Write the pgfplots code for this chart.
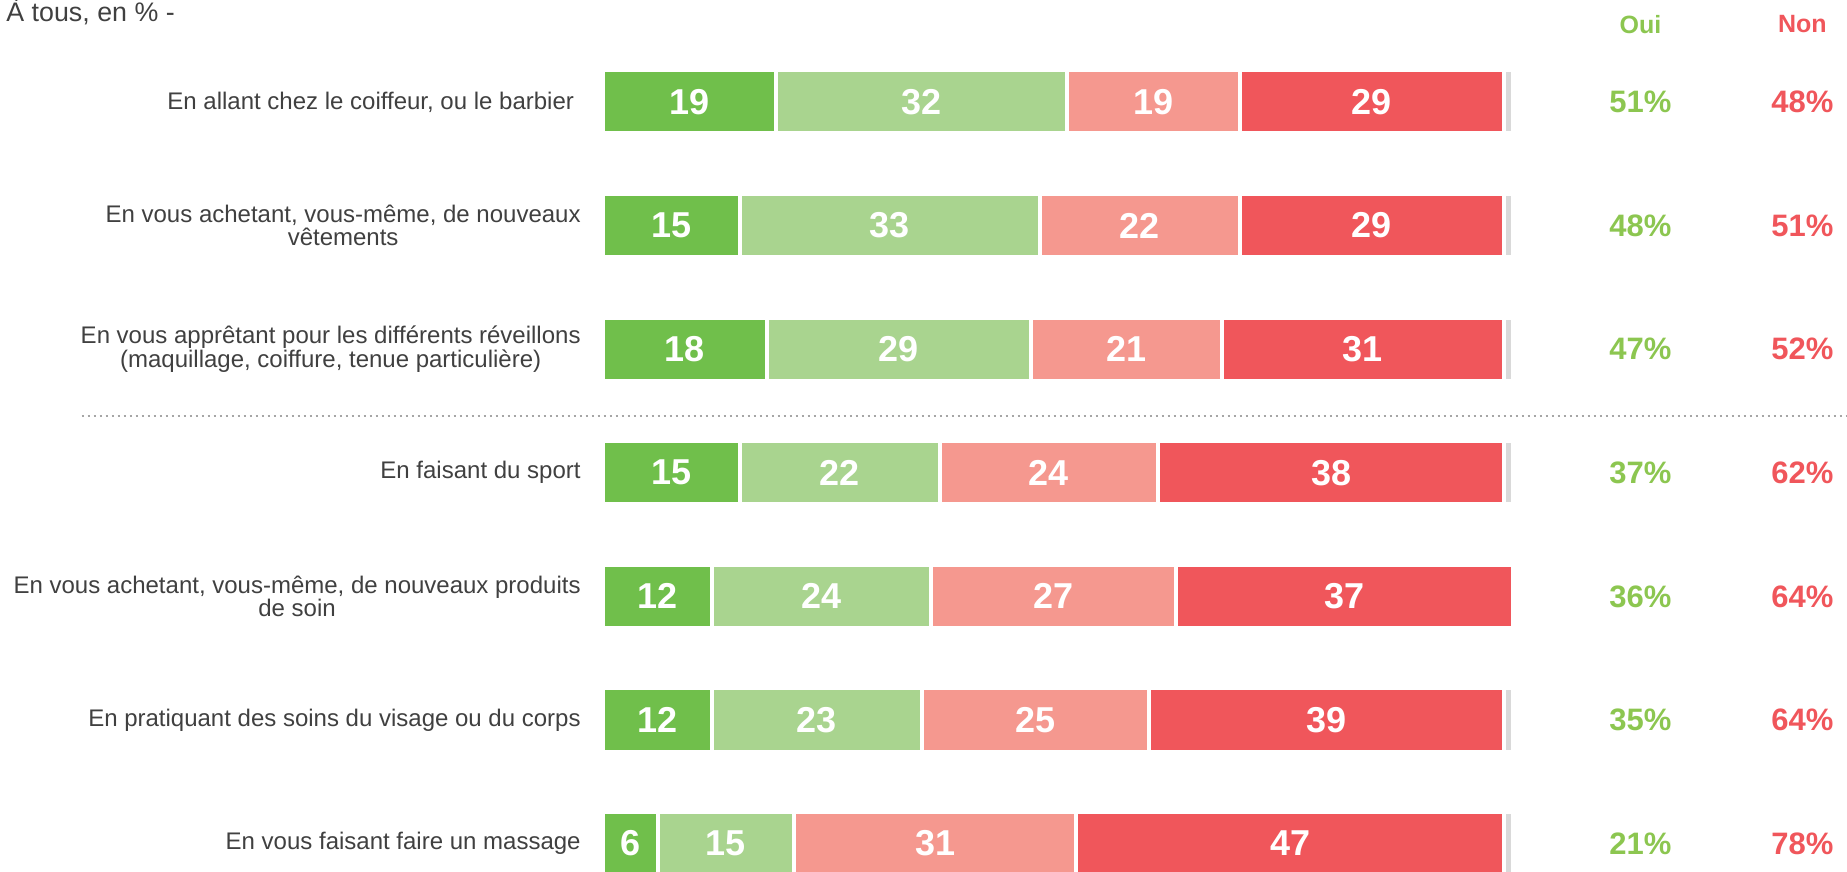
\documentclass[border=0pt]{standalone}
\usepackage{pgfplots}
\pgfplotsset{compat=1.18}
\usepackage{fontspec}
\setmainfont{Liberation Sans}

\definecolor{tbA}{RGB}{112,191,75}
\definecolor{tbB}{RGB}{169,212,143}
\definecolor{tbC}{RGB}{245,152,143}
\definecolor{tbD}{RGB}{240,86,91}
\definecolor{tbE}{RGB}{217,217,217}
\definecolor{ouiC}{RGB}{140,198,80}
\definecolor{nonC}{RGB}{240,86,91}
\definecolor{txt}{RGB}{64,64,64}

% 1 px of the reference = 0.5pt ; bars start at px 603, 9.1 px per point
\pgfplotsset{
  base/.style={
    scale only axis, width=923.5pt, height=436pt,
    xmin=-66.26, xmax=136.7, ymin=-0.825, ymax=6.23,
    y dir=reverse, clip=false,
    /pgf/number format/assume math mode=true,
  },
  seg/.style={fill=#1, draw=white, line width=2pt},
  lab/.style={draw=none, mark=none, nodes near coords, point meta=explicit,
    every node near coord/.append style={anchor=center, text=white,
      font=\fontsize{18}{18}\selectfont\bfseries}},
}

\begin{document}
\begin{tikzpicture}
\begin{axis}[base,
    xbar stacked, bar width=0.51,
    axis line style={draw=none}, tick style={draw=none},
    xtick=\empty, ytick={0,...,6},
    yticklabels={
      {En allant chez le coiffeur, ou le barbier\ },
      {En vous achetant, vous-même, de nouveaux\\vêtements},
      {En vous apprêtant pour les différents réveillons\\(maquillage, coiffure, tenue particulière)},
      {En faisant du sport},
      {En vous achetant, vous-même, de nouveaux produits\\de soin},
      {En pratiquant des soins du visage ou du corps},
      {En vous faisant faire un massage}},
    yticklabel style={align=center, anchor=east, inner sep=0pt, xshift=290.5pt,
      text=txt, font=\fontsize{12}{11.8}\selectfont},
]
\addplot[seg=tbA] coordinates {(19,0) (15,1) (18,2) (15,3) (12,4) (12,5) (6,6)};
\addplot[seg=tbB] coordinates {(32,0) (33,1) (29,2) (22,3) (24,4) (23,5) (15,6)};
\addplot[seg=tbC] coordinates {(19,0) (22,1) (21,2) (24,3) (27,4) (25,5) (31,6)};
\addplot[seg=tbD] coordinates {(29,0) (29,1) (31,2) (38,3) (37,4) (39,5) (47,6)};
\addplot[seg=tbE] coordinates {(1,0) (1,1) (1,2) (1,3) (0,4) (1,5) (1,6)};
\end{axis}

\begin{axis}[base, hide axis]
% value labels, centred in each segment
\addplot[lab] table[meta=v] {
x y v
9.5 0 19
35 0 32
60.5 0 19
84.5 0 29
7.5 1 15
31.5 1 33
59 1 22
84.5 1 29
9 2 18
32.5 2 29
57.5 2 21
83.5 2 31
7.5 3 15
26 3 22
49 3 24
80 3 38
6 4 12
24 4 24
49.5 4 27
81.5 4 37
6 5 12
23.5 5 23
47.5 5 25
79.5 5 39
3 6 6
13.5 6 15
36.5 6 31
75.5 6 47
};
% Oui / Non totals
\addplot[draw=none, mark=none, nodes near coords={\pgfmathprintnumber{\pgfplotspointmeta}\%},
  point meta=explicit,
  every node near coord/.append style={anchor=center, text=ouiC,
    font=\fontsize{15.5}{16}\selectfont\bfseries}] table[meta=v] {
x y v
114 0 51
114 1 48
114 2 47
114 3 37
114 4 36
114 5 35
114 6 21
};
\addplot[draw=none, mark=none, nodes near coords={\pgfmathprintnumber{\pgfplotspointmeta}\%},
  point meta=explicit,
  every node near coord/.append style={anchor=center, text=nonC,
    font=\fontsize{15.5}{16}\selectfont\bfseries}] table[meta=v] {
x y v
131.8 0 48
131.8 1 51
131.8 2 52
131.8 3 62
131.8 4 64
131.8 5 64
131.8 6 78
};
% separator
\addplot[black!35, dotted, line width=1pt] coordinates {(-57.3,2.54) (136.7,2.54)};

\node[anchor=center, text=ouiC, font=\fontsize{12.5}{13}\selectfont\bfseries]
  at (axis cs:114,-0.63) {Oui};
\node[anchor=center, text=nonC, font=\fontsize{12.5}{13}\selectfont\bfseries]
  at (axis cs:131.8,-0.63) {Non};
\node[anchor=west, inner sep=0pt, text=txt, font=\fontsize{13.4}{14}\selectfont]
  at (axis cs:-65.6,-0.73) {À tous, en \% -};
\end{axis}
\pgfresetboundingbox
\path (current axis.south west) rectangle (current axis.north east);
\end{tikzpicture}
\end{document}
